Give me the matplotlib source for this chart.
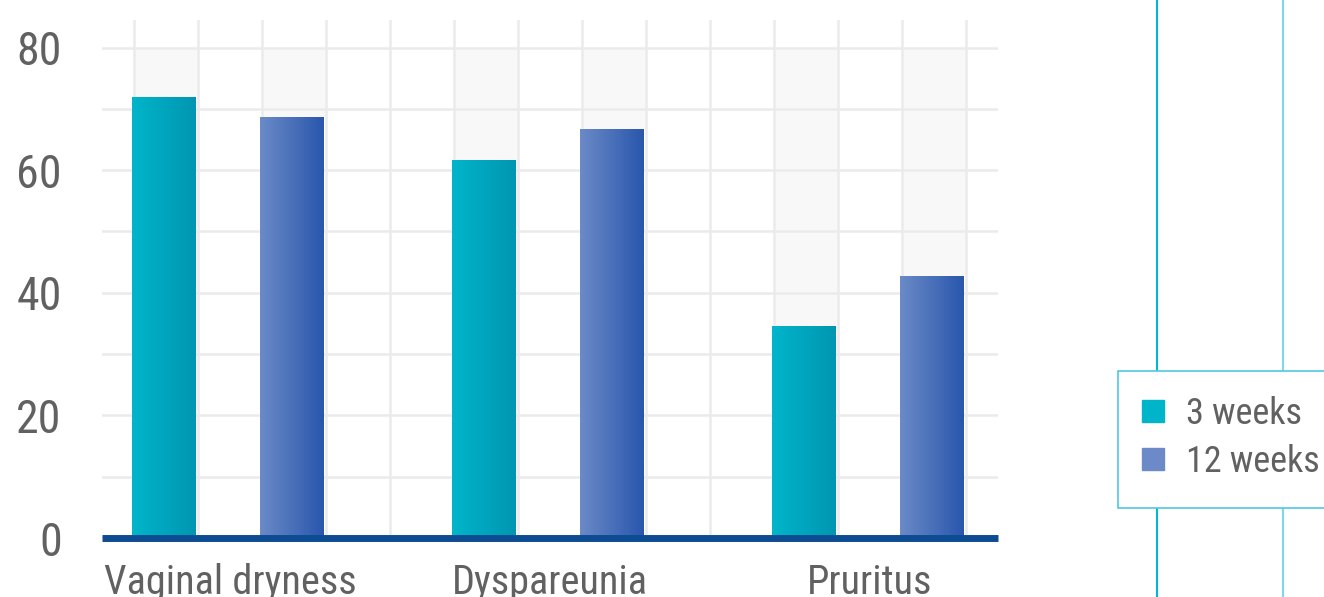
import matplotlib
matplotlib.use('Agg')
import matplotlib.pyplot as plt
import numpy as np
from matplotlib.lines import Line2D
from matplotlib.patches import Rectangle
from matplotlib import font_manager

# %% data
categories = ['Vaginal dryness', 'Dyspareunia', 'Pruritus']
series = ['3 weeks', '12 weeks']
weeks3 = [72.0, 61.7, 34.6]
weeks12 = [68.7, 66.8, 42.8]
yticks = [0, 20, 40, 60, 80]

names = {f.name for f in font_manager.fontManager.ttflist}
fam = 'Roboto Condensed' if 'Roboto Condensed' in names else (
    'Liberation Sans Narrow' if 'Liberation Sans Narrow' in names else 'Roboto')
plt.rcParams['font.family'] = [fam, 'DejaVu Sans']

W, H = 1324, 597
fig = plt.figure(figsize=(W / 100, H / 100), dpi=100)
ax = fig.add_axes([102 / W, 1 - 538 / H, 896 / W, 518 / H])

centers = np.array([2, 7, 12])
x3 = centers - 1.03
x12 = centers + 0.97

grey = '#616161'

# light background columns up to 80
ax.bar(centers - 1, [80 - v for v in weeks3], bottom=weeks3, width=1, color='#f8f8f8', zorder=0)
ax.bar(centers + 1, [80 - v for v in weeks12], bottom=weeks12, width=1, color='#f8f8f8', zorder=0)

# grid
for y in range(0, 81, 10):
    ax.axhline(y, color='#ebebeb', lw=1.8, zorder=1)
for x in np.arange(0.5, 14, 1):
    ax.axvline(x, color='#ebebeb', lw=1.8, zorder=1)


def grad_bars(xs, vals, c0, c1):
    bars = ax.bar(xs, vals, width=1.0, color='none', zorder=2)
    cmap = matplotlib.colors.LinearSegmentedColormap.from_list('g', [c0, c1])
    grad = np.linspace(0, 1, 64).reshape(1, -1)
    for b in bars:
        x0, y0 = b.get_x(), b.get_y()
        im = ax.imshow(grad, cmap=cmap, aspect='auto', zorder=2,
                       extent=[x0, x0 + b.get_width(), y0, y0 + b.get_height()])
        im.set_clip_path(b)
    return bars


grad_bars(x3, weeks3, '#00b5ca', '#0096b1')
grad_bars(x12, weeks12, '#6b8ac7', '#2957ad')
ax.set_xlim(0, 14)
ax.set_ylim(0, 84.5)

# baseline
ax.axhline(0, color='#0d4c92', lw=5, zorder=3, solid_capstyle='butt', clip_on=False)

for s in ax.spines.values():
    s.set_visible(False)
ax.set_yticks(yticks)
ax.set_yticklabels([str(t) for t in yticks])
ax.set_xticks(centers)
ax.set_xticklabels(categories)
ax.tick_params(axis='y', length=0, pad=29, labelsize=33, labelcolor=grey)
ax.tick_params(axis='x', length=0, pad=18, labelsize=29, labelcolor=grey)

# decorative vertical lines on the right
fig.add_artist(Line2D([1157 / W, 1157 / W], [0, 1], color='#00b8d8', lw=1.5))
fig.add_artist(Line2D([1283 / W, 1283 / W], [0, 1], color='#7fd8ea', lw=1.5))

# legend box
fig.add_artist(Rectangle((1118 / W, 1 - 508 / H), 220 / W, 137 / H,
                         transform=fig.transFigure, facecolor='white',
                         edgecolor='#50c8e0', lw=1.2, zorder=5))
handles = [Line2D([], [], marker='s', ls='none', markersize=16, color='#00b5ca'),
           Line2D([], [], marker='s', ls='none', markersize=16, color='#6b8ac7')]
leg = fig.legend(handles, series, loc='upper left',
                 bbox_to_anchor=(1121 / W, 1 - 378 / H), frameon=False,
                 fontsize=26, labelcolor=grey, handlelength=0.75, handletextpad=0.55,
                 labelspacing=0.33, borderpad=0)
leg.set_zorder(6)

fig.savefig('out.png', dpi=100)
